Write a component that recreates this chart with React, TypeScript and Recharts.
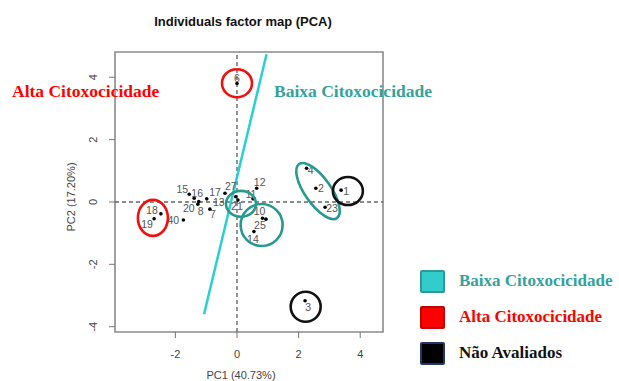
import React from "react";
import {
  ReferenceArea,
  ReferenceLine,
  Scatter,
  ScatterChart,
  XAxis,
  YAxis,
} from "recharts";

// individuals (PC1, PC2)
const labels = ["1", "2", "4", "23", "3", "6", "12", "11", "10", "25", "14", "21", "27", "17", "13", "7", "8", "20", "16", "15", "40", "18", "19"];
const pc1 = [3.38, 2.56, 2.26, 2.86, 2.21, 0.0, 0.64, 0.52, 0.83, 0.94, 0.55, 0.03, -0.04, -0.39, -0.98, -0.88, -1.24, -1.27, -1.39, -1.55, -1.74, -2.47, -2.69];
const pc2 = [0.38, 0.44, 1.08, -0.17, -3.17, 3.8, 0.44, 0.1, -0.52, -0.55, -0.95, 0.06, 0.17, 0.28, 0.1, -0.23, 0.01, -0.07, 0.12, 0.25, -0.58, -0.38, -0.54];

const xTicks = [-2, 0, 2, 4];
const yTicks = [-4, -2, 0, 2, 4];
const xDomain: [number, number] = [-3.96, 4.74];
const yDomain: [number, number] = [-4.17, 4.81];

// hand drawn split line
const splitLine = [
  { x: -1.07, y: -3.6 },
  { x: 0.96, y: 4.74 },
];

// group highlights (centres on the PC axes)
const groupX = [0.0, -2.73, 0.13, 0.8, 2.63, 3.6, 2.23];
const groupY = [3.81, -0.51, -0.06, -0.74, 0.35, 0.35, -3.36];
const groupKind = ["alta", "alta", "baixa", "baixa", "baixa", "nao", "nao"];

const legendNames = ["Baixa Citoxocicidade", "Alta Citoxocicidade", "Não Avaliados"];
const legendKinds = ["baixa", "alta", "nao"];

// label offsets from the dot (px)
const labelOffset: Record<string, [number, number]> = {
  "1": [5, 1], "2": [5, 0], "4": [4, 2], "23": [7, 1], "3": [3, 7], "6": [0, -5],
  "12": [3, -6], "11": [-2, -5], "10": [-3, -7], "25": [-6, 6], "14": [-1, 8],
  "21": [-1, 6], "27": [-5, -10], "17": [-10, -1], "13": [12, 3], "7": [3, 5],
  "8": [2, 10], "20": [-9, 4], "16": [3, -5], "15": [-7, -5], "40": [-10, 0],
  "18": [-9, -4], "19": [-7, 6],
};

const ringSize: [number, number, number][] = [
  [15, 14, 0], [15, 18, 0], [15, 13, 0], [21, 21, 0], [33, 13, 55], [15, 14, 0], [15, 15, 0],
];

const colors: Record<string, { stroke: string; fill: string; border: string; text: string }> = {
  baixa: { stroke: "#27998f", fill: "#33cccc", border: "#2a9a96", text: "#34a29c" },
  alta: { stroke: "#f01010", fill: "#ff0000", border: "#c00000", text: "#ff0000" },
  nao: { stroke: "#111111", fill: "#000000", border: "#1f3864", text: "#111111" },
};

const points = labels.map((label, i) => ({ label, x: pc1[i], y: pc2[i] }));
const groups = groupX.map((x, i) => ({ x, y: groupY[i], kind: groupKind[i], idx: i }));

const serif = '"Liberation Serif", "Times New Roman", serif';
const sans = '"Liberation Sans", Arial, sans-serif';

const PointShape = (props: any) => {
  const { cx, cy, payload } = props;
  const [dx, dy] = labelOffset[payload.label] || [0, -6];
  return (
    <g>
      <circle cx={cx} cy={cy} r={1.8} fill="#000" />
      <text x={cx + dx} y={cy + dy} dy="0.35em" textAnchor="middle" fontSize={10.5} fill="#555" fontFamily={sans}>
        {payload.label}
      </text>
    </g>
  );
};

const RingShape = (props: any) => {
  const { cx, cy, payload } = props;
  const [rx, ry, angle] = ringSize[payload.idx];
  return (
    <ellipse
      cx={cx}
      cy={cy}
      rx={rx}
      ry={ry}
      transform={`rotate(${angle} ${cx} ${cy})`}
      fill="none"
      stroke={colors[payload.kind].stroke}
      strokeWidth={2.6}
    />
  );
};

const YTick = (props: any) => {
  const { x, y, payload } = props;
  return (
    <text x={x} y={y} dy="0.35em" textAnchor="middle" fontSize={11} fill="#444" fontFamily={sans} transform={`rotate(-90 ${x} ${y})`}>
      {payload.value}
    </text>
  );
};

const LegendBox = () => (
  <div style={{ position: "absolute", left: 420, top: 263 }}>
    {legendNames.map((name, i) => {
      const c = colors[legendKinds[i]];
      return (
        <div key={name} style={{ display: "flex", alignItems: "center", height: 36 }}>
          <div style={{ width: 21, height: 19, background: c.fill, border: `2px solid ${c.border}`, borderRadius: 2 }} />
          <span style={{ marginLeft: 14, fontFamily: serif, fontWeight: "bold", fontSize: 17, color: c.text, whiteSpace: "nowrap" }}>{name}</span>
        </div>
      );
    })}
  </div>
);

export default function App() {
  return (
    <div style={{ position: "absolute", left: 0, top: 0, width: 619, height: 381, background: "#fff" }}>
      <ScatterChart width={619} height={381} margin={{ top: 52, right: 236, bottom: 4, left: 70 }}>
        <XAxis
          type="number"
          dataKey="x"
          domain={xDomain}
          ticks={xTicks}
          allowDataOverflow
          height={45}
          tickSize={6}
          tickMargin={12}
          axisLine={false}
          tickLine={{ stroke: "#777" }}
          tick={{ fontSize: 11, fill: "#444", fontFamily: sans }}
        />
        <YAxis
          type="number"
          dataKey="y"
          domain={yDomain}
          ticks={yTicks}
          allowDataOverflow
          width={45}
          tickSize={6}
          tickMargin={16}
          axisLine={false}
          tickLine={{ stroke: "#777" }}
          tick={<YTick />}
        />
        <ReferenceArea x1={xDomain[0]} x2={xDomain[1]} y1={yDomain[0]} y2={yDomain[1]} fill="none" fillOpacity={0} stroke="#8a8a8a" strokeWidth={1.6} />
        <ReferenceLine x={0} stroke="#666" strokeDasharray="4 3" strokeWidth={1.4} />
        <ReferenceLine y={0} stroke="#666" strokeDasharray="4 3" strokeWidth={1.4} />
        <Scatter data={points} shape={<PointShape />} isAnimationActive={false} legendType="none" />
        <ReferenceLine segment={splitLine} stroke="#2ccfd0" strokeWidth={2.5} ifOverflow="visible" />
        <Scatter data={groups} shape={<RingShape />} isAnimationActive={false} legendType="none" />
      </ScatterChart>
      <LegendBox />
      <div style={{ position: "absolute", left: 0, width: 486, top: 14, textAlign: "center", fontFamily: sans, fontWeight: "bold", fontSize: 13, color: "#111" }}>
        Individuals factor map (PCA)
      </div>
      <div style={{ position: "absolute", left: 141, width: 200, top: 369, textAlign: "center", fontFamily: sans, fontSize: 11, color: "#444" }}>
        PC1 (40.73%)
      </div>
      <div style={{ position: "absolute", left: 71, top: 197, width: 0, height: 0 }}>
        <div style={{ position: "absolute", left: -50, top: -7, width: 100, textAlign: "center", transform: "rotate(-90deg)", fontFamily: sans, fontSize: 11, color: "#444", lineHeight: "14px" }}>
          PC2 (17.20%)
        </div>
      </div>
      <div style={{ position: "absolute", left: 12, top: 81, fontFamily: serif, fontWeight: "bold", fontSize: 17.5, color: colors.alta.text, whiteSpace: "nowrap" }}>
        Alta Citoxocicidade
      </div>
      <div style={{ position: "absolute", left: 274, top: 81, fontFamily: serif, fontWeight: "bold", fontSize: 17.5, color: colors.baixa.text, whiteSpace: "nowrap" }}>
        Baixa Citoxocicidade
      </div>
    </div>
  );
}
